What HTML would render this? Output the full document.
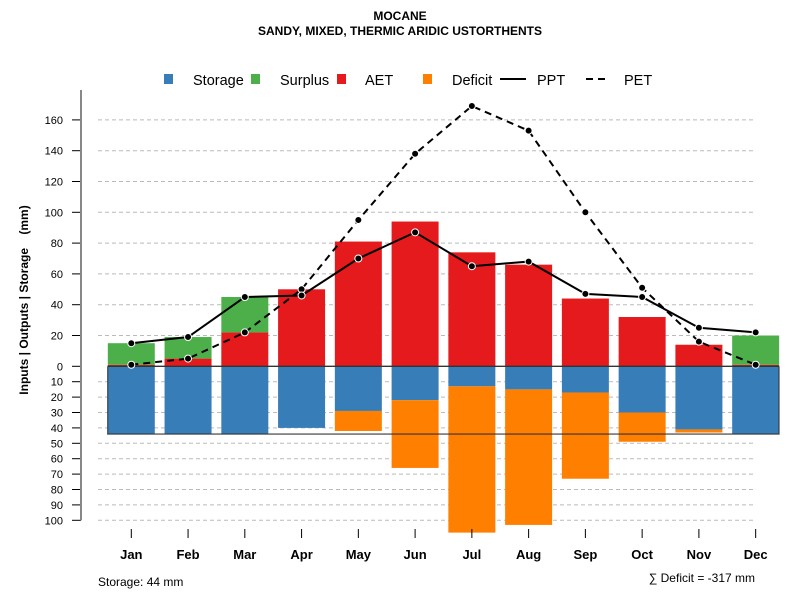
<!DOCTYPE html>
<html><head><meta charset="utf-8"><style>
body{margin:0;background:#fff;}
text{font-family:"Liberation Sans",sans-serif;}
</style></head><body>
<svg id="chart" width="800" height="600" viewBox="0 0 800 600" xmlns="http://www.w3.org/2000/svg">
<text x="400" y="20" text-anchor="middle" font-size="12" font-weight="bold">MOCANE</text>
<text x="400" y="35" text-anchor="middle" font-size="12" font-weight="bold">SANDY, MIXED, THERMIC ARIDIC USTORTHENTS</text>
<g id="legend" font-size="14.5">
<rect x="164" y="74" width="9" height="10" fill="#377eb8"/>
<text x="193" y="85">Storage</text>
<rect x="251" y="74" width="9" height="10" fill="#4daf4a"/>
<text x="280" y="85">Surplus</text>
<rect x="337" y="74" width="9" height="10" fill="#e41a1c"/>
<text x="365" y="85">AET</text>
<rect x="423" y="74" width="9" height="10" fill="#ff7f00"/>
<text x="452" y="85">Deficit</text>
<line x1="500" y1="79" x2="526" y2="79" stroke="#000" stroke-width="2"/>
<text x="537" y="85">PPT</text>
<line x1="586" y1="79" x2="609" y2="79" stroke="#000" stroke-width="2" stroke-dasharray="7,5"/>
<text x="624" y="85">PET</text>
</g>
<text transform="translate(28,300) rotate(-90)" text-anchor="middle" font-size="12" font-weight="bold">Inputs | Outputs | Storage&#160;&#160;&#160;&#160;(mm)</text>
<text x="98" y="586" font-size="12">Storage: 44 mm</text>
<text x="755" y="582" text-anchor="end" font-size="12">∑ Deficit = -317 mm</text>
<g id="plot"></g>
</svg>
<script>
const months=["Jan","Feb","Mar","Apr","May","Jun","Jul","Aug","Sep","Oct","Nov","Dec"];
const storage=[44,44,44,40,29,22,13,15,17,30,41,44];
const surplus=[14,14,23,0,0,0,0,0,0,0,0,19];
const aet=[1,5,22,50,81,94,74,66,44,32,14,1];
const deficit=[0,0,0,0,13,44,95,88,56,19,2,0];
const ppt=[15,19,45,46,70,87,65,68,47,45,25,22];
const pet=[1,5,22,50,95,138,169,153,100,51,16,1];
const upTicks=[0,20,40,60,80,100,120,140,160];
const downTicks=[10,20,30,40,50,60,70,80,90,100];
const storageCap=44;

const NS="http://www.w3.org/2000/svg";
const g=document.getElementById("plot");
const Y0=366.3, K=1.54;
function yUp(v){return Y0-v*K;}
function yDown(v){return Y0+v*K;}
function xC(i){return 131.3+i*56.76;}
const BW=47;
function mk(tag,attrs){const e=document.createElementNS(NS,tag);for(const k in attrs)e.setAttribute(k,attrs[k]);g.appendChild(e);return e;}

upTicks.forEach(t=>{
  const y=yUp(t);
  if(t>0){const l=mk("line",{x1:98,x2:755,y1:y,y2:y,stroke:"#bbb","stroke-dasharray":"4,3"});
  
  }
  const tk=mk("line",{x1:72,x2:81,y1:y,y2:y,stroke:"#000"});
  
  
  const tx=mk("text",{x:63,y:y+4,"text-anchor":"end","font-size":"11"});tx.textContent=t;
  
  
});
downTicks.forEach(t=>{
  const y=yDown(t);
  const l=mk("line",{x1:98,x2:755,y1:y,y2:y,stroke:"#bbb","stroke-dasharray":"4,3"});
  
  
  const tk=mk("line",{x1:72,x2:81,y1:y,y2:y,stroke:"#000"});
  
  
  const tx=mk("text",{x:63,y:y+4,"text-anchor":"end","font-size":"11"});tx.textContent=t;
  
  
});
const ax=mk("line",{x1:81,x2:81,y1:90,y2:yDown(100),stroke:"#888","stroke-width":2});



months.forEach((m,i)=>{
  const x=xC(i), l=x-BW/2;
  const r1=mk("rect",{x:l,y:yUp(aet[i]),width:BW,height:aet[i]*K,fill:"#e41a1c"});
  
  
  const r2=mk("rect",{x:l,y:yUp(aet[i]+surplus[i]),width:BW,height:surplus[i]*K,fill:"#4daf4a"});
  
  
  const r3=mk("rect",{x:l,y:Y0,width:BW,height:storage[i]*K,fill:"#377eb8"});
  
  
  const r4=mk("rect",{x:l,y:yDown(storage[i]),width:BW,height:deficit[i]*K,fill:"#ff7f00"});
  
  
  const tk=mk("line",{x1:x,x2:x,y1:529,y2:538,stroke:"#000"});
  
  
  const tx=mk("text",{x:x,y:559,"text-anchor":"middle","font-size":"13","font-weight":"bold"});tx.textContent=m;
  
  
});
const zl=mk("line",{x1:107.7,x2:779,y1:Y0,y2:Y0,stroke:"#333","stroke-width":1.3});


const cap=mk("polyline",{points:`107.7,${Y0} 107.7,${yDown(storageCap)} 779,${yDown(storageCap)} 779,${Y0}`,fill:"none",stroke:"#333","stroke-opacity":0.8,"stroke-width":1.3});



function series(vals,dash,name){
  const pl=mk("polyline",{points:vals.map((v,i)=>xC(i)+","+yUp(v)).join(" "),fill:"none",stroke:"#000","stroke-width":2,"stroke-dasharray":dash});
  
  
  vals.forEach((v,i)=>{
    const c=mk("circle",{cx:xC(i),cy:yUp(v),r:3.5,fill:"#000",stroke:"#fff","stroke-width":1});
    
    
  });
}
series(pet,"7,5","pet");
series(ppt,"none","ppt");
</script>
</body></html>
